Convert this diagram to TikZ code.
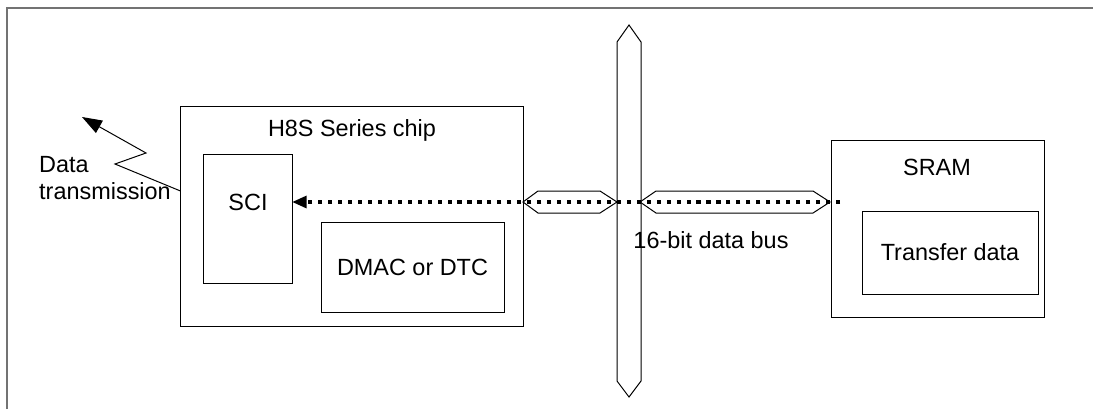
\documentclass[tikz,border=0pt]{standalone}
\usepackage{fontspec}
\setmainfont{Liberation Sans}
\usetikzlibrary{arrows.meta}
\tikzset{
  box/.style={draw, line width=0.85pt, inner sep=0pt},
  lbl/.style={font=\fontsize{20pt}{23pt}\selectfont, inner sep=0pt},
  bus/.style={draw, line width=0.85pt, line join=miter},
  flow/.style={line width=3pt, dash pattern=on 3.5pt off 5pt,
    -{Triangle[length=12pt,width=11pt,line width=0pt]}},
}
\begin{document}
\begin{tikzpicture}[x=0.03cm,y=-0.03cm]
\useasboundingbox (0,0) rectangle (1093,409);
% frame
\draw[black!55, line width=1.3pt] (7,409) -- (7,8) -- (1093,8);
% boxes
\node[box, minimum width=10.26cm, minimum height=6.6cm] (chip) at (352,216) {};
\node[box, minimum width=2.67cm, minimum height=3.87cm] (sci) at (247.5,218.5) {};
\node[box, minimum width=5.49cm, minimum height=2.7cm, lbl] (dmac) at (412.5,267) {DMAC or DTC};
\node[box, minimum width=6.39cm, minimum height=5.31cm] (sram) at (937.5,228.5) {};
\node[box, minimum width=5.28cm, minimum height=2.49cm, lbl] (tdata) at (950,252.5) {Transfer data};
\node[lbl] (chiplbl) at (352,130) {H8S Series chip};
\node[lbl] (scilbl) at (248,202) {SCI};
\node[lbl] (sramlbl) at (937,167) {SRAM};
\node[lbl] (buslbl) at (711,240) {16-bit data bus};
\node[lbl, anchor=west, align=left] (txlbl) at (39,178) {Data\\transmission};
% buses
\draw[bus] (629,25) -- (641,42) -- (641,381) -- (629,397) -- (617,381) -- (617,42) -- cycle;
\draw[bus] (523,202) -- (538,191) -- (600,191) -- (617,202) -- (600,213) -- (538,213) -- cycle;
\draw[bus] (640,202) -- (656,191) -- (813,191) -- (830,202) -- (813,213) -- (656,213) -- cycle;
% transfer
\coordinate (src) at (840,202);
\draw[flow] (src) -- (sci.east |- src);
% transmission
\coordinate (tx1) at (115,164);
\coordinate (tx2) at (146,153);
\coordinate (txend) at (82,117);
\draw[line width=0.85pt, -{Triangle[length=0.6cm,width=0.42cm]}]
  (chip.west |- 0,191) -- (tx1) -- (tx2) -- (txend);
\end{tikzpicture}
\end{document}
